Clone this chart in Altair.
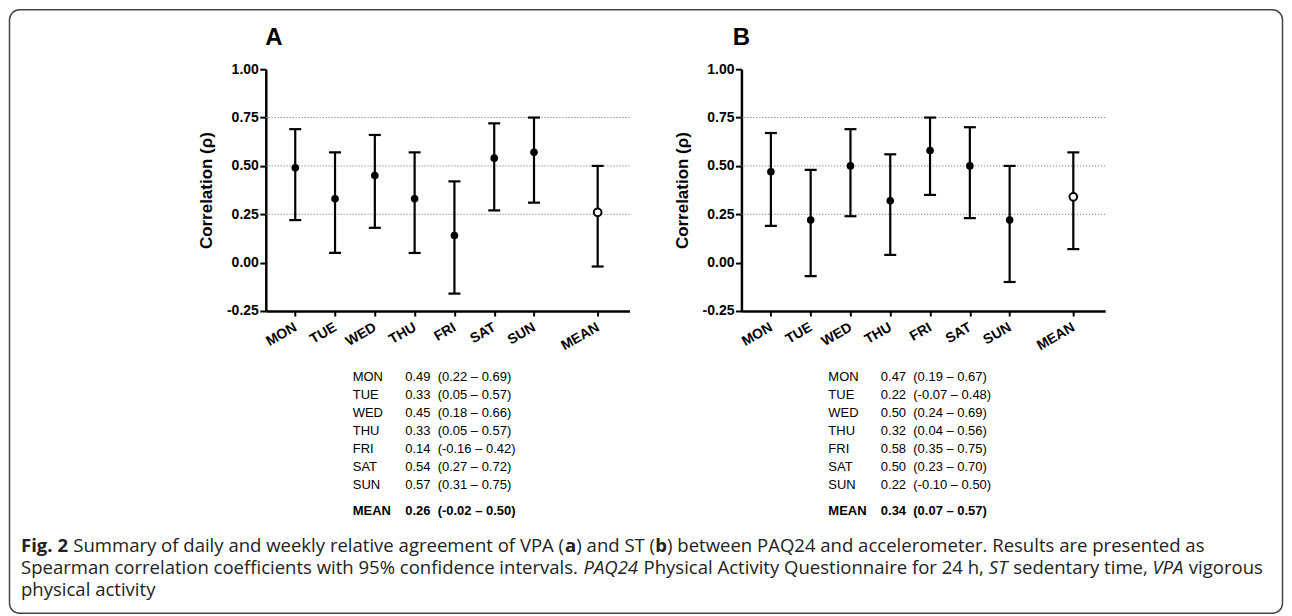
import altair as alt
import pandas as pd

# ---------------- data ----------------
days = ["MON", "TUE", "WED", "THU", "FRI", "SAT", "SUN"]
day_pos = [1, 2, 3, 4, 5, 6, 7]
mean_label = "MEAN"
mean_pos = 8.6
x_domain = [0.26, 9.40]
y_domain = [-0.25, 1.0]
y_ticks = [-0.25, 0.0, 0.25, 0.5, 0.75, 1.0]
grid_levels = [0.25, 0.5, 0.75]
y_title = "Correlation (\u03c1)"

vpa_rho = [0.49, 0.33, 0.45, 0.33, 0.14, 0.54, 0.57]
vpa_lo = [0.22, 0.05, 0.18, 0.05, -0.16, 0.27, 0.31]
vpa_hi = [0.69, 0.57, 0.66, 0.57, 0.42, 0.72, 0.75]
vpa_mean = [0.26, -0.02, 0.50]

st_rho = [0.47, 0.22, 0.50, 0.32, 0.58, 0.50, 0.22]
st_lo = [0.19, -0.07, 0.24, 0.04, 0.35, 0.23, -0.10]
st_hi = [0.67, 0.48, 0.69, 0.56, 0.75, 0.70, 0.50]
st_mean = [0.34, 0.07, 0.57]

caption_lines = [
    [("Fig. 2", "bold"),
     (" Summary of daily and weekly relative agreement of VPA (", "normal"),
     ("a", "bold"), (") and ST (", "normal"), ("b", "bold"),
     (") between PAQ24 and accelerometer. Results are presented as", "normal")],
    [("Spearman correlation coefficients with 95% confidence intervals. ", "normal"),
     ("PAQ24", "italic"),
     (" Physical Activity Questionnaire for 24 h, ", "normal"),
     ("ST", "italic"), (" sedentary time, ", "normal"),
     ("VPA", "italic"), (" vigorous", "normal")],
    [("physical activity", "normal")],
]

# ---------------- style / layout ----------------
AX_FONT = "Liberation Sans"
CAP_FONT = "Open Sans"
CAP_COLOR = "#222222"
W, H = 364, 242
TABLE_X = [87, 139.5, 172]
ROW_RANGE = [308, 416]
MEAN_ROW_Y = 442

# approximate advance widths (units of 1/2048 em) for the caption font
OS_REG = {' ': 532, '.': 545, ',': 502, '(': 606, ')': 606, '%': 1696, '-': 659,
          'A': 1296, 'B': 1327, 'C': 1292, 'D': 1493, 'E': 1139, 'F': 1057, 'G': 1491,
          'H': 1511, 'I': 571, 'J': 547, 'K': 1257, 'L': 1073, 'M': 1849, 'N': 1544,
          'O': 1595, 'P': 1233, 'Q': 1595, 'R': 1266, 'S': 1124, 'T': 1133, 'U': 1491,
          'V': 1219, 'W': 1866, 'X': 1182, 'Y': 1139, 'Z': 1147,
          'a': 1139, 'b': 1255, 'c': 975, 'd': 1255, 'e': 1149, 'f': 694, 'g': 1122,
          'h': 1257, 'i': 518, 'j': 518, 'k': 1075, 'l': 518, 'm': 1905, 'n': 1257,
          'o': 1237, 'p': 1255, 'q': 1255, 'r': 836, 's': 977, 't': 723, 'u': 1257,
          'v': 1026, 'w': 1593, 'x': 1073, 'y': 1028, 'z': 977}
for d in "0123456789":
    OS_REG[d] = 1171
OS_BOLD = {'F': 1150, 'i': 620, 'g': 1170, '.': 600, '2': 1171,
           'a': 1240, 'b': 1300}
OS_ITAL = {'P': 1150, 'A': 1180, 'Q': 1500, 'S': 1060, 'T': 1100, 'V': 1160,
           '2': 1140, '4': 1140}


def em(s, style):
    tbl = dict(OS_REG)
    if style == "bold":
        tbl.update(OS_BOLD)
    elif style == "italic":
        tbl.update(OS_ITAL)
    return sum(tbl.get(c, 1100) for c in s) / 2048.0


line2_em = sum(em(t, s) for t, s in caption_lines[1])
CAP_FS = 1.005 * 1237.0 / line2_em
CAP_X0 = -245
CAP_Y = [477, 499, 521]

x_label_expr = ("datum.value > 8 ? '" + mean_label + "' : " +
                str([""] + days) + "[round(datum.value)]")
x_scale = alt.Scale(domain=x_domain, nice=False, zero=False)
y_scale = alt.Scale(domain=y_domain, nice=False, zero=False)

x_axis = alt.Axis(values=day_pos + [mean_pos], labelExpr=x_label_expr, title=None,
                  grid=False, domainColor="black", domainWidth=2.5,
                  tickColor="black", tickWidth=2, tickSize=5,
                  labelAngle=-30, labelAlign="right", labelBaseline="middle",
                  labelPadding=10, labelFont=AX_FONT, labelFontWeight="bold",
                  labelFontSize=14, labelColor="black", labelOverlap=False,
                  labelFlush=False)
y_axis = alt.Axis(values=y_ticks,
                  labelExpr="(datum.value < 0 ? '-' : '') + format(abs(datum.value), '.2f')",
                  title=y_title, titleFont=AX_FONT, titleFontSize=17,
                  titleFontWeight="bold", titleColor="black", titlePadding=11,
                  grid=False, domainColor="black", domainWidth=2.5,
                  tickColor="black", tickWidth=2, tickSize=6,
                  labelFont=AX_FONT, labelFontWeight="bold", labelFontSize=14,
                  labelColor="black", labelPadding=1.5, labelFlush=False,
                  labelOverlap=False)


def txt(text, x, y, size, weight="normal", style="normal", font=AX_FONT,
        align="left", color="black"):
    return alt.Chart(pd.DataFrame({"t": [text]})).mark_text(
        align=align, baseline="middle", font=font, fontSize=size,
        fontWeight=weight, fontStyle=style, color=color
    ).encode(x=alt.value(x), y=alt.value(y), text="t:N")


def make_panel(letter, letter_dx, rho, lo, hi, mean, decorate=False):
    df = pd.DataFrame({
        "day": days + [mean_label],
        "pos": day_pos + [mean_pos],
        "rho": rho + [mean[0]],
        "lo": lo + [mean[1]],
        "hi": hi + [mean[2]],
        "kind": ["day"] * len(days) + ["mean"],
    })
    base = alt.Chart(df).encode(x=alt.X("pos:Q", scale=x_scale, axis=x_axis))

    def Y(f):
        return alt.Y(f, scale=y_scale, axis=y_axis)

    grid = alt.Chart(pd.DataFrame({"g": grid_levels})).mark_rule(
        color="#808080", strokeWidth=1, strokeDash=[1.2, 1.8]
    ).encode(y=Y("g:Q"))
    bars = base.mark_rule(color="black", strokeWidth=2.2).encode(
        y=Y("lo:Q"), y2="hi:Q")
    cap_hi = base.mark_tick(orient="horizontal", size=12, thickness=2.2,
                            color="black", opacity=1).encode(y=Y("hi:Q"))
    cap_lo = base.mark_tick(orient="horizontal", size=12, thickness=2.2,
                            color="black", opacity=1).encode(y=Y("lo:Q"))
    pts = base.transform_filter("datum.kind == 'day'").mark_circle(
        size=58, color="black", opacity=1).encode(y=Y("rho:Q"))
    mpt = base.transform_filter("datum.kind == 'mean'").mark_point(
        shape="circle", filled=True, fill="white", stroke="black",
        strokeWidth=2, size=60, opacity=1).encode(y=Y("rho:Q"))
    inner = alt.layer(grid, bars, cap_hi, cap_lo, pts, mpt)

    tab = pd.DataFrame({
        "day": days,
        "r": [f"{v:.2f}" for v in rho],
        "ci": [f"({a:.2f} \u2013 {b:.2f})" for a, b in zip(lo, hi)],
    })
    row_scale = alt.Scale(domain=days, range=ROW_RANGE, padding=0)

    def tcol(field, dx):
        return alt.Chart(tab).mark_text(
            align="left", baseline="middle", font=AX_FONT, fontSize=13,
            color="black"
        ).encode(x=alt.value(dx), y=alt.Y("day:N", scale=row_scale, axis=None),
                 text=f"{field}:N")

    layers = []
    if decorate:
        border = alt.Chart(pd.DataFrame({"k": [0]})).mark_rect(
            cornerRadius=10, fill="white", fillOpacity=0, stroke="#444444",
            strokeWidth=1.5
        ).encode(x=alt.value(-256.5), x2=alt.value(1017.5),
                 y=alt.value(-59.5), y2=alt.value(544.5))
        layers.append(border)
    layers.append(inner)
    layers.append(txt(letter, letter_dx, -31.5, 24, weight="bold", align="center"))
    layers += [tcol("day", TABLE_X[0]), tcol("r", TABLE_X[1]), tcol("ci", TABLE_X[2])]
    mean_cells = [mean_label, f"{mean[0]:.2f}", f"({mean[1]:.2f} \u2013 {mean[2]:.2f})"]
    for cell, dx in zip(mean_cells, TABLE_X):
        layers.append(txt(cell, dx, MEAN_ROW_Y, 13, weight="bold"))

    if decorate:
        for line, cy in zip(caption_lines, CAP_Y):
            cursor = 0.0
            for text, style in line:
                lead = len(text) - len(text.lstrip(" "))
                xs = CAP_X0 + (cursor + em(" " * lead, style)) * CAP_FS
                cursor += em(text, style)
                weight = "bold" if style == "bold" else "normal"
                fstyle = "italic" if style == "italic" else "normal"
                layers.append(txt(text.strip(" "), round(xs, 2), cy, round(CAP_FS, 2),
                                  weight=weight, style=fstyle, font=CAP_FONT,
                                  color=CAP_COLOR))

    return alt.layer(*layers).resolve_scale(y="independent").properties(
        width=W, height=H)


panel_a = make_panel("A", 8, vpa_rho, vpa_lo, vpa_hi, vpa_mean, decorate=True)
panel_b = make_panel("B", 0, st_rho, st_lo, st_hi, st_mean)

chart = alt.hconcat(panel_a, panel_b, spacing=112, bounds="flush").properties(
    padding=0
).configure_view(stroke=None)

chart.save("out.html", embed_options={"renderer": "svg", "actions": False})
